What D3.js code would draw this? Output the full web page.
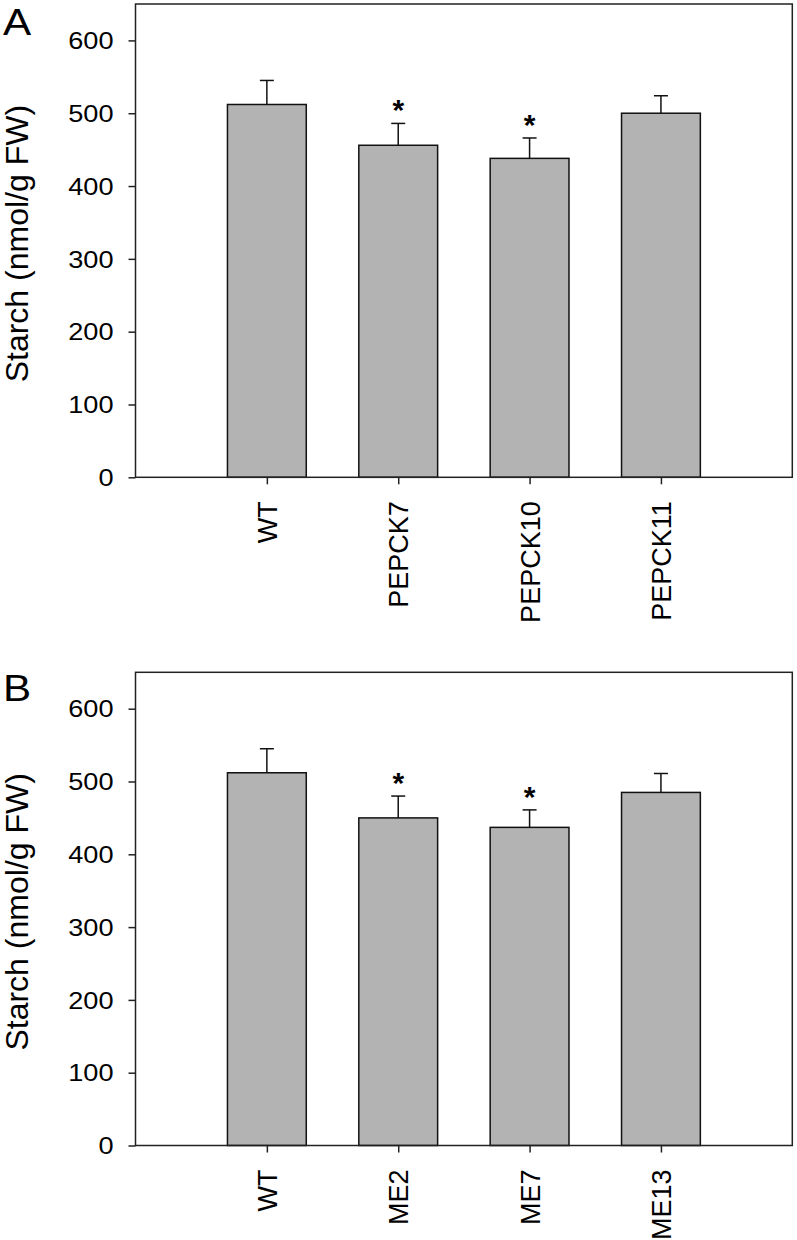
<!DOCTYPE html>
<html>
<head>
<meta charset="utf-8">
<script src="https://cdn.jsdelivr.net/npm/d3@7"></script>
<style>
  html, body { margin: 0; padding: 0; background: #fff; }
  svg { display: block; font-family: "Liberation Sans", Arial, sans-serif; }
</style>
</head>
<body>
<svg id="chart" width="797" height="1240"></svg>
<script>
// ---- data ----
const panelLetters = ["A", "B"];
const categoriesA = ["WT", "PEPCK7", "PEPCK10", "PEPCK11"];
const valuesA = [512, 456, 438, 500];
const errorsA = [33, 30, 28, 24];
const sigA = [false, true, true, false];

const categoriesB = ["WT", "ME2", "ME7", "ME13"];
const valuesB = [512, 450, 437, 485];
const errorsB = [33, 30, 24, 26];
const sigB = [false, true, true, false];

const yTicks = [0, 100, 200, 300, 400, 500, 600];
const yMax = 650;
const yLabel = "Starch (nmol/g FW)";

// ---- drawing ----
const svg = d3.select("#chart");

function panel(opts) {
  const { letter, letterY, cats, vals, errs, sig, top, bottom, left, right } = opts;
  const g = svg.append("g");
  const x = d3.scaleLinear().domain([0, cats.length + 1]).range([left, right]);
  const y = d3.scaleLinear().domain([0, yMax]).range([bottom, top]);
  const barW = 0.6;

  // panel letter
  g.append("text")
    .attr("transform", `translate(3,${letterY}) scale(1.14,1)`)
    .attr("font-size", 37)
    .attr("fill", "#000")
    .text(letter);

  const data = cats.map((c, i) => ({ c, i, v: vals[i], e: errs[i], s: sig[i] }));

  // bars
  g.selectAll("rect.bar").data(data).enter().append("rect")
    .attr("class", "bar")
    .attr("x", d => x(d.i + 1 - barW / 2))
    .attr("width", d => x(d.i + 1 + barW / 2) - x(d.i + 1 - barW / 2))
    .attr("y", d => y(d.v))
    .attr("height", d => y(0) - y(d.v))
    .attr("fill", "#b3b3b3")
    .attr("stroke", "#111")
    .attr("stroke-width", 1.5);

  // error bars (upper only)
  const capHalf = 7;
  g.selectAll("line.err").data(data).enter().append("line")
    .attr("x1", d => x(d.i + 1)).attr("x2", d => x(d.i + 1))
    .attr("y1", d => y(d.v)).attr("y2", d => y(d.v + d.e))
    .attr("stroke", "#111").attr("stroke-width", 1.5);
  g.selectAll("line.cap").data(data).enter().append("line")
    .attr("x1", d => x(d.i + 1) - capHalf).attr("x2", d => x(d.i + 1) + capHalf)
    .attr("y1", d => y(d.v + d.e)).attr("y2", d => y(d.v + d.e))
    .attr("stroke", "#111").attr("stroke-width", 1.5);

  // significance asterisks
  g.selectAll("text.sig").data(data.filter(d => d.s)).enter().append("text")
    .attr("x", d => x(d.i + 1))
    .attr("y", d => y(d.v + d.e) - 3)
    .attr("text-anchor", "middle")
    .attr("font-size", 30)
    .attr("font-weight", "bold")
    .attr("fill", "#000")
    .text("*");

  // frame
  g.append("rect")
    .attr("x", left).attr("y", top)
    .attr("width", right - left).attr("height", bottom - top)
    .attr("fill", "none").attr("stroke", "#222").attr("stroke-width", 1.5);

  // y axis
  const yAxis = d3.axisLeft(y).tickValues(yTicks).tickSize(7).tickSizeOuter(0).tickPadding(15);
  const ya = g.append("g").attr("transform", `translate(${left},0)`).call(yAxis);
  ya.select(".domain").remove();
  ya.selectAll(".tick line").attr("stroke", "#222").attr("stroke-width", 1.5);
  ya.selectAll(".tick text")
    .attr("font-size", 23)
    .attr("font-family", "'Liberation Sans', Arial, sans-serif")
    .attr("fill", "#000")
    .attr("dy", "0.36em")
    .attr("transform", function () {
      const tx = +d3.select(this).attr("x");
      return `translate(${tx},0) scale(1.18,1)`;
    })
    .attr("x", 0);

  // x axis
  const xAxis = d3.axisBottom(x).tickValues(d3.range(1, cats.length + 1))
    .tickFormat(d => cats[d - 1]).tickSize(7).tickSizeOuter(0);
  const xa = g.append("g").attr("transform", `translate(0,${bottom})`).call(xAxis);
  xa.select(".domain").remove();
  xa.selectAll(".tick line").attr("stroke", "#222").attr("stroke-width", 1.5);
  xa.selectAll(".tick text")
    .attr("font-size", 27)
    .attr("font-family", "'Liberation Sans', Arial, sans-serif")
    .attr("fill", "#000")
    .attr("text-anchor", "end")
    .attr("transform", "rotate(-90)")
    .attr("x", -24)
    .attr("y", 0)
    .attr("dy", "0.36em");

  // y label
  g.append("text")
    .attr("transform", `translate(28,${(top + bottom) / 2 + 3}) rotate(-90)`)
    .attr("text-anchor", "middle")
    .attr("font-size", 32)
    .attr("fill", "#000")
    .text(yLabel);
}

panel({ letter: panelLetters[0], letterY: 35, cats: categoriesA, vals: valuesA, errs: errorsA, sig: sigA,
        top: 4, bottom: 477.3, left: 135.5, right: 792.3 });
panel({ letter: panelLetters[1], letterY: 700.5, cats: categoriesB, vals: valuesB, errs: errorsB, sig: sigB,
        top: 672.3, bottom: 1145.5, left: 135.5, right: 792.3 });
</script>
</body>
</html>
